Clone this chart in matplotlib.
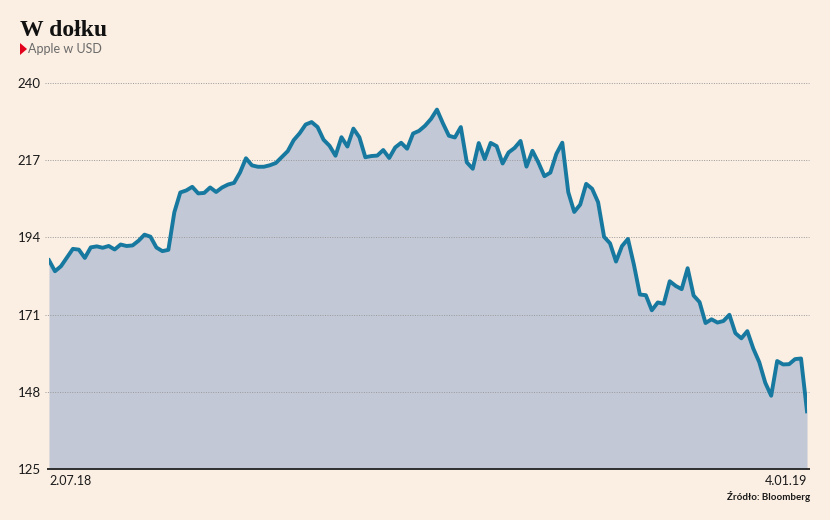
import numpy as np
import matplotlib
matplotlib.use("Agg")
import matplotlib.pyplot as plt
from matplotlib.patches import Polygon

# Apple, cena zamknięcia w USD, 2.07.18 - 4.01.19 (sesje)
prices = [
    # lipiec
    187.18, 183.92, 185.40, 187.97, 190.58, 190.35, 187.88, 191.03, 191.33, 190.91,
    191.45, 190.40, 191.88, 191.44, 191.61, 193.00, 194.82, 194.21, 190.98, 189.91,
    190.29,
    # sierpień
    201.50, 207.39, 207.99, 209.07, 207.11, 207.25, 208.88, 207.53, 208.87, 209.75,
    210.24, 213.32, 217.58, 215.46, 215.04, 215.05, 215.49, 216.16, 217.94, 219.70,
    222.98, 225.03, 227.63,
    # wrzesień
    228.36, 226.87, 223.10, 221.30, 218.33, 223.85, 221.07, 226.41, 223.84, 217.88,
    218.24, 218.37, 220.03, 217.66, 220.79, 222.19, 220.42, 224.95, 225.74,
    # październik
    227.26, 229.28, 232.07, 227.99, 224.29, 223.77, 226.87, 216.36, 214.45, 222.11,
    217.36, 222.15, 221.19, 216.02, 219.31, 220.65, 222.73, 215.09, 219.80, 216.30,
    212.24, 213.30, 218.86,
    # listopad
    222.22, 207.48, 201.59, 203.77, 209.95, 208.49, 204.47, 194.17, 192.23, 186.80,
    191.41, 193.53, 185.86, 176.98, 176.78, 172.29, 174.62, 174.24, 180.94, 179.55,
    178.58,
    # grudzień / styczeń
    184.82, 176.69, 174.72, 168.49, 169.60, 168.63, 169.10, 170.95, 165.48, 163.94,
    166.07, 160.89, 156.83, 150.73, 146.83, 157.17, 156.15, 156.23, 157.74, 157.92,
    142.19,
]
y_ticks = [125, 148, 171, 194, 217, 240]
x_labels = ["2.07.18", "4.01.19"]

title = "W dołku"
subtitle = "Apple w USD"
source = "Źródło: Bloomberg"

bg = "#FBEEE2"
line_col = "#17799F"
fill_col = "#C2C8D6"

x = np.arange(len(prices))

fig = plt.figure(figsize=(8.3, 5.2), dpi=100, facecolor=bg)
ax = fig.add_axes([49 / 830, 1 - 469 / 520, (807 - 49) / 830, (469 - 83) / 520])
ax.set_facecolor(bg)

ax.fill_between(x, prices, 125, color=fill_col, lw=0, zorder=1)
ax.plot(x, prices, color=line_col, lw=2.8, solid_joinstyle="round", zorder=3)

ax.set_xlim(0, len(prices) - 1)
ax.set_ylim(125, 240)

# siatka kropkowana
ax.hlines(y_ticks[1:], -0.005, 1.002, transform=ax.get_yaxis_transform(),
          colors="#9a9a9a", linestyles=(0, (1, 1.5)), lw=0.7, zorder=2, clip_on=False)
ax.hlines(125, -0.003, 1.004, transform=ax.get_yaxis_transform(),
          colors="#222222", lw=1.3, zorder=4, clip_on=False)

for s in ax.spines.values():
    s.set_visible(False)

ax.set_yticks(y_ticks)
ax.set_yticklabels([str(v) for v in y_ticks], fontfamily="Lato", fontsize=9.5, color="#1a1a1a")
ax.tick_params(axis="y", length=0, pad=6)

ax.set_xticks([0, len(prices) - 1])
ax.set_xticklabels(x_labels, fontfamily="Lato", fontsize=9, color="#1a1a1a")
ax.tick_params(axis="x", length=0, pad=4)
xt = ax.get_xticklabels()
xt[0].set_ha("left")
xt[1].set_ha("right")

fig.text(20 / 830, 1 - 30 / 520, title, fontfamily="Liberation Serif", fontweight="bold",
         fontsize=17, color="#111111", va="center", ha="left")
tri = Polygon([[20 / 830, 1 - 43 / 520], [20 / 830, 1 - 55 / 520], [27 / 830, 1 - 49 / 520]],
              closed=True, transform=fig.transFigure, color="#e3001b", lw=0)
fig.patches.append(tri)
fig.text(28 / 830, 1 - 49 / 520, subtitle, fontfamily="Lato", fontsize=9,
         color="#6a6a6a", va="center", ha="left")
fig.text(810 / 830, 1 - 496 / 520, source, fontfamily="Lato", fontweight="bold",
         fontsize=7, color="#1a1a1a", va="center", ha="right")

fig.savefig("out.png", dpi=100, facecolor=bg)
